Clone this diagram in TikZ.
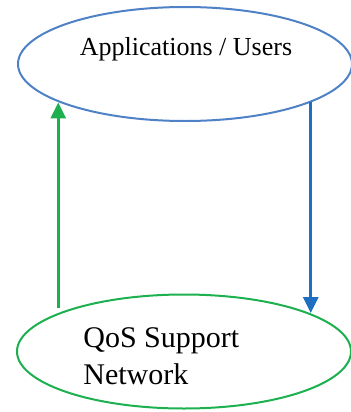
\documentclass[tikz,border=0pt]{standalone}
\usepackage{fontspec}
\setmainfont{Liberation Serif}
\usetikzlibrary{shapes.geometric,arrows.meta}
\definecolor{appblue}{HTML}{4F81C7}
\definecolor{downblue}{HTML}{1F6FC0}
\definecolor{upgreen}{HTML}{1DB04F}
\tikzset{
  bubble/.style={draw, ellipse, line width=1pt, inner sep=0pt,
    minimum width=167pt, minimum height=57pt},
  flowup/.style={line width=1.5pt, color=upgreen, -{Triangle[width=7.5pt,length=8pt]}},
  flowdown/.style={line width=1.5pt, color=downblue, -{Triangle[width=7.5pt,length=8pt]}}
}

\begin{document}
\begin{tikzpicture}[x=0.5pt, y=-0.5pt]
			%%%%% START %%%%%
			\useasboundingbox (0, 0) rectangle (351, 412);
			
			\node[bubble, color=appblue] (app) at (185, 64) {};
			\node[bubble, color=upgreen] (net) at (184, 351.5) {};
			
			\node[anchor=base, font=\fontsize{13}{15.6}\selectfont] (applbl) at (186, 55) {Applications / Users};
			\node[anchor=north west, inner sep=0pt, align=left, font=\fontsize{15}{18.5}\selectfont] (netlbl) at (83, 327)
				{QoS Support\\Network};
			
			\draw[flowup] ([yshift=2.5pt]net.163) -- (net.163 |- app.197);
			\draw[flowdown] (app.343) -- (app.343 |- net.17);
			%%%%% END %%%%%
\end{tikzpicture}
\end{document}
